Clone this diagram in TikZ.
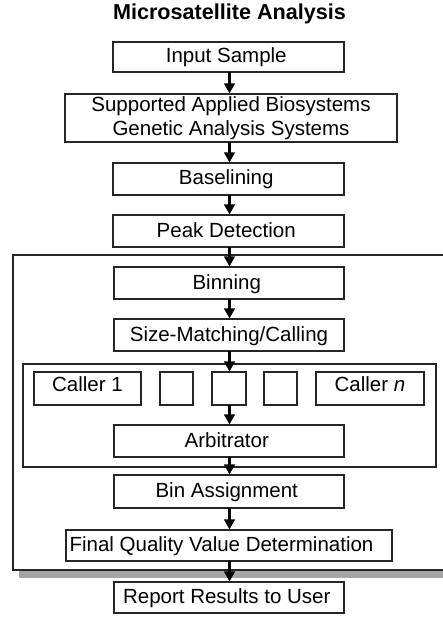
\documentclass[tikz,border=0pt]{standalone}
\usepackage{fontspec}
\setmainfont{Liberation Sans}
\usetikzlibrary{arrows.meta}
\newcommand\lsh[1]{#1\hspace{4.5pt}}
\begin{document}
\begin{tikzpicture}[x=1pt,y=-1pt,
  stepbox/.style={draw=black!85, line width=1.1pt, fill=white, inner sep=0pt,
    font=\fontsize{20.5}{23.5}\selectfont, text height=15pt, text depth=3pt, align=center},
  frame/.style={draw=black!85, line width=1.1pt},
  flow/.style={line width=3pt, -{Triangle[length=10pt,width=10.5pt]}, shorten <=-0.5pt}
]
\useasboundingbox (0,0) rectangle (443,617);
\clip (0,0) rectangle (443,617);
\fill[white] (0,0) rectangle (443,617);
% outer frame with shadow
\fill[black!35] (19,263) rectangle (470,578);
\filldraw[frame, fill=white] (13,255) rectangle (462,570);
% inner frame
\draw[frame] (23,364) rectangle (436,467);

\node[font=\bfseries\fontsize{21.6}{24}\selectfont, anchor=base] (title) at (229.5,19.5) {Microsatellite Analysis};

\node[stepbox, minimum width=231pt, minimum height=30pt] (input) at (228.5,57) {\lsh{Input Sample}};
\node[stepbox, minimum width=332pt, minimum height=48pt, text height=, text depth=] (sup) at (231,118) {\lsh{Supported Applied Biosystems}\\\lsh{Genetic Analysis Systems}};
\node[stepbox, minimum width=231pt, minimum height=32pt] (base) at (228.5,179) {\lsh{Baselining}};
\node[stepbox, minimum width=231pt, minimum height=32pt] (peak) at (228.5,231) {\lsh{Peak Detection}};
\node[stepbox, minimum width=230pt, minimum height=32pt] (bin) at (229,283) {\lsh{Binning}};
\node[stepbox, minimum width=230pt, minimum height=32pt] (size) at (229,335) {Size-Matching/Calling};
\node[stepbox, minimum width=107pt, minimum height=33pt] (c1) at (87.5,388.5) {\raisebox{3pt}{Caller 1}};
\node[stepbox, minimum width=33pt, minimum height=33pt] (s1) at (176.5,388.5) {};
\node[stepbox, minimum width=34pt, minimum height=33pt] (s2) at (229,388.5) {};
\node[stepbox, minimum width=33pt, minimum height=33pt] (s3) at (280.5,388.5) {};
\node[stepbox, minimum width=108pt, minimum height=33pt] (cn) at (370,388.5) {\raisebox{3pt}{Caller \textit{n}}};
\node[stepbox, minimum width=230pt, minimum height=32pt] (arb) at (229,441) {\lsh{Arbitrator}};
\node[stepbox, minimum width=230pt, minimum height=33pt] (binas) at (229,491.5) {\lsh{Bin Assignment}};
\node[stepbox, minimum width=326pt, minimum height=31pt] (fq) at (229,545.5) {Final Quality Value Determination\hspace{15pt}};
\node[stepbox, minimum width=230pt, minimum height=31pt] (rep) at (229,597.5) {\lsh{Report Results to User}};

\draw[flow] (input.south -| 229.5,0) -- (sup.north -| 229.5,0);
\draw[flow] (sup.south -| 229.5,0) -- (base.north -| 229.5,0);
\draw[flow] (base.south -| 229.5,0) -- (peak.north -| 229.5,0);
\draw[flow] (peak.south -| 229.5,0) -- (bin.north -| 229.5,0);
\draw[flow] (bin.south -| 229.5,0) -- (size.north -| 229.5,0);
\draw[flow] (size.south -| 229.5,0) -- (s2.north -| 229.5,0);
\draw[flow] (s2.south -| 229.5,0) -- (arb.north -| 229.5,0);
\draw[flow] (arb.south -| 229.5,0) -- (binas.north -| 229.5,0);
\draw[flow] (binas.south -| 229.5,0) -- (fq.north -| 229.5,0);
\draw[flow] (fq.south -| 229.5,0) -- (rep.north -| 229.5,0);
\end{tikzpicture}
\end{document}
